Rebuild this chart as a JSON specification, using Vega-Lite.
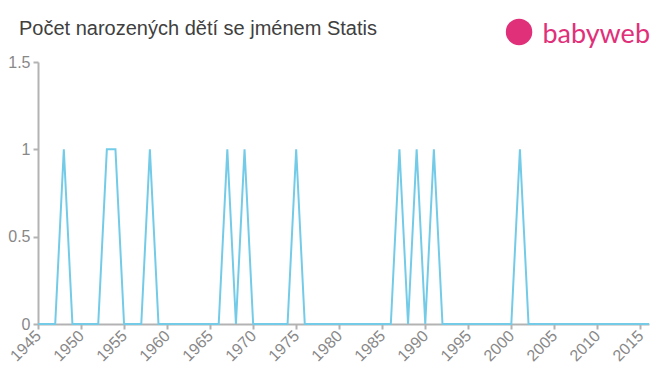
{
  "$schema": "https://vega.github.io/schema/vega-lite/v6.json",
  "autosize": "none",
  "width": 611,
  "height": 262,
  "padding": {"left": 38, "top": 62, "right": 11, "bottom": 51},
  "background": "white",
  "config": {
    "view": {"stroke": null},
    "font": "Liberation Sans"
  },
  "title": {
    "text": "Počet narozených dětí se jménem Statis",
    "anchor": "start",
    "frame": "group",
    "dx": -19,
    "offset": -36.5,
    "baseline": "alphabetic",
    "fontSize": 20,
    "fontWeight": "normal",
    "color": "#404040",
    "font": "Liberation Sans"
  },
  "datasets": {
    "births": [
      {"year": 1945, "count": 0}, {"year": 1946, "count": 0}, {"year": 1947, "count": 0},
      {"year": 1948, "count": 1}, {"year": 1949, "count": 0}, {"year": 1950, "count": 0},
      {"year": 1951, "count": 0}, {"year": 1952, "count": 0}, {"year": 1953, "count": 1},
      {"year": 1954, "count": 1}, {"year": 1955, "count": 0}, {"year": 1956, "count": 0},
      {"year": 1957, "count": 0}, {"year": 1958, "count": 1}, {"year": 1959, "count": 0},
      {"year": 1960, "count": 0}, {"year": 1961, "count": 0}, {"year": 1962, "count": 0},
      {"year": 1963, "count": 0}, {"year": 1964, "count": 0}, {"year": 1965, "count": 0},
      {"year": 1966, "count": 0}, {"year": 1967, "count": 1}, {"year": 1968, "count": 0},
      {"year": 1969, "count": 1}, {"year": 1970, "count": 0}, {"year": 1971, "count": 0},
      {"year": 1972, "count": 0}, {"year": 1973, "count": 0}, {"year": 1974, "count": 0},
      {"year": 1975, "count": 1}, {"year": 1976, "count": 0}, {"year": 1977, "count": 0},
      {"year": 1978, "count": 0}, {"year": 1979, "count": 0}, {"year": 1980, "count": 0},
      {"year": 1981, "count": 0}, {"year": 1982, "count": 0}, {"year": 1983, "count": 0},
      {"year": 1984, "count": 0}, {"year": 1985, "count": 0}, {"year": 1986, "count": 0},
      {"year": 1987, "count": 1}, {"year": 1988, "count": 0}, {"year": 1989, "count": 1},
      {"year": 1990, "count": 0}, {"year": 1991, "count": 1}, {"year": 1992, "count": 0},
      {"year": 1993, "count": 0}, {"year": 1994, "count": 0}, {"year": 1995, "count": 0},
      {"year": 1996, "count": 0}, {"year": 1997, "count": 0}, {"year": 1998, "count": 0},
      {"year": 1999, "count": 0}, {"year": 2000, "count": 0}, {"year": 2001, "count": 1},
      {"year": 2002, "count": 0}, {"year": 2003, "count": 0}, {"year": 2004, "count": 0},
      {"year": 2005, "count": 0}, {"year": 2006, "count": 0}, {"year": 2007, "count": 0},
      {"year": 2008, "count": 0}, {"year": 2009, "count": 0}, {"year": 2010, "count": 0},
      {"year": 2011, "count": 0}, {"year": 2012, "count": 0}, {"year": 2013, "count": 0},
      {"year": 2014, "count": 0}, {"year": 2015, "count": 0}, {"year": 2016, "count": 0}
    ],
    "logo": [{"name": "babyweb"}]
  },
  "layer": [
    {
      "data": {"name": "births"},
      "mark": {"type": "line", "color": "#74cbe8", "strokeWidth": 2, "clip": false},
      "encoding": {
        "x": {
          "field": "year",
          "type": "quantitative",
          "scale": {"domain": [1945, 2016], "nice": false, "zero": false},
          "axis": {
            "values": [1945, 1950, 1955, 1960, 1965, 1970, 1975, 1980, 1985, 1990, 1995, 2000, 2005, 2010, 2015],
            "format": "d",
            "title": null,
            "grid": false,
            "labelAngle": -45,
            "labelAlign": "right",
            "labelBaseline": "middle",
            "labelFontSize": 16,
            "labelColor": "#888888",
            "labelFont": "Liberation Sans",
            "labelPadding": 4,
            "domainColor": "#b3b3b3",
            "domainWidth": 2,
            "tickColor": "#b3b3b3",
            "tickWidth": 2,
            "tickSize": 5,
            "labelOverlap": false,
            "labelFlush": false
          }
        },
        "y": {
          "field": "count",
          "type": "quantitative",
          "scale": {"domain": [0, 1.5], "nice": false},
          "axis": {
            "values": [0, 0.5, 1, 1.5],
            "format": "~g",
            "title": null,
            "grid": false,
            "labelFontSize": 16,
            "labelColor": "#888888",
            "labelFont": "Liberation Sans",
            "labelPadding": 3,
            "domainColor": "#b3b3b3",
            "domainWidth": 2,
            "tickColor": "#b3b3b3",
            "tickWidth": 2,
            "tickSize": 5,
            "labelFlush": false
          }
        }
      }
    },
    {
      "data": {"name": "logo"},
      "mark": {"type": "point", "filled": true, "color": "#e0307a", "opacity": 1, "size": 700, "shape": "circle", "clip": false},
      "encoding": {
        "x": {"datum": 2000.9, "type": "quantitative"},
        "y": {"datum": 1.672, "type": "quantitative"}
      }
    },
    {
      "data": {"name": "logo"},
      "mark": {"type": "text", "align": "right", "baseline": "alphabetic", "dx": 1, "dy": -19, "fontSize": 27, "fontWeight": "normal", "color": "#e0307a", "font": "Lato", "clip": false},
      "encoding": {
        "x": {"datum": 2016, "type": "quantitative"},
        "y": {"datum": 1.5, "type": "quantitative"},
        "text": {"field": "name"}
      }
    }
  ]
}
